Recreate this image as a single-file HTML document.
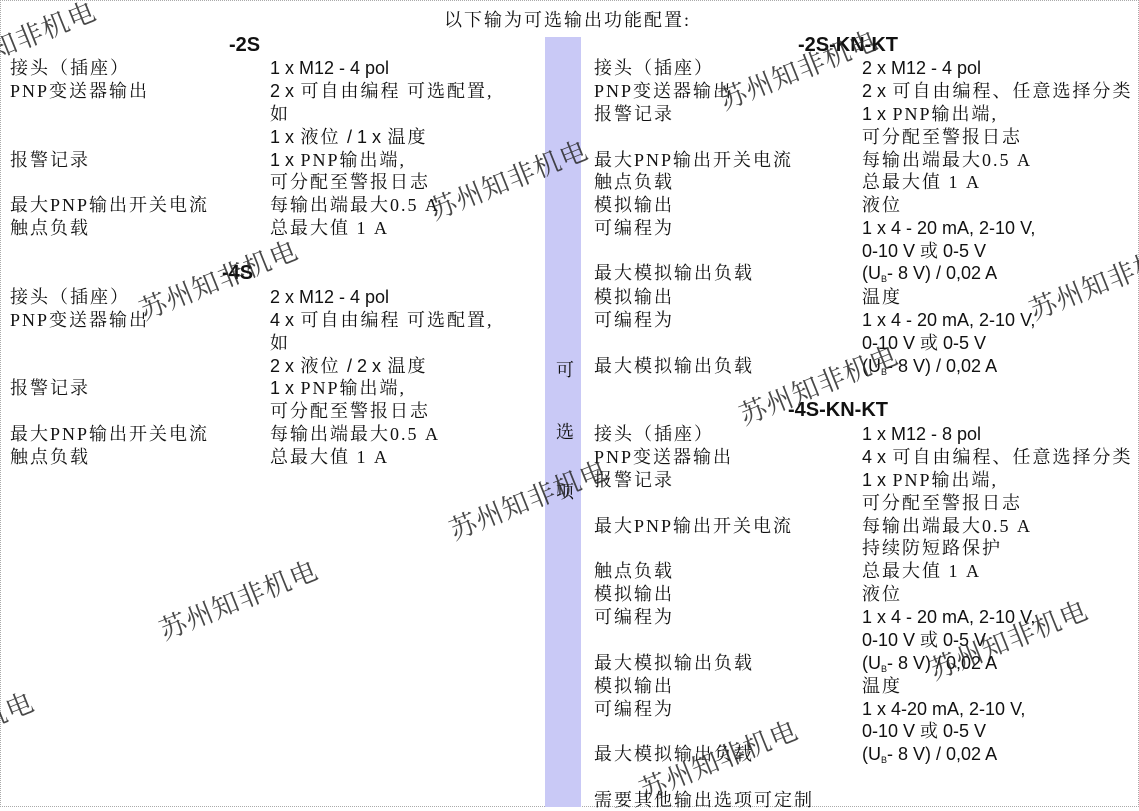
<!DOCTYPE html>
<html><head><meta charset="utf-8"><style>
html,body{margin:0;padding:0;background:#fff}
body{width:1139px;height:807px;position:relative;overflow:hidden;font-family:"Liberation Serif","Noto Serif CJK SC",serif;font-size:18px;color:#111;letter-spacing:2px}
.frame{position:absolute;left:0;top:0;width:1137px;height:805px;border:1px dotted #aaa}
.t{position:absolute;white-space:nowrap;line-height:22px}
.s{font-family:"Liberation Sans","Noto Serif CJK SC",sans-serif;letter-spacing:0}
.t.s{letter-spacing:0}
.h{position:absolute;font-family:"Liberation Sans",sans-serif;font-weight:bold;font-size:20px;line-height:22px;letter-spacing:0}
.bar{position:absolute;left:545px;top:37px;width:36px;height:770px;background:#c9c9f6}
.w{position:absolute;font-family:"Noto Serif CJK SC",serif;font-size:27px;letter-spacing:1px;color:rgba(40,40,40,0.85);transform:rotate(-22deg);transform-origin:left center;white-space:nowrap}
sub{font-size:9px;vertical-align:-3px}
</style></head><body>
<div class="frame"></div>
<div class="bar"></div>
<div class="t" style="left:444px;top:9px">以下输为可选输出功能配置:</div>
<div class="t" style="left:556px;top:359px">可</div>
<div class="t" style="left:556px;top:421px">选</div>
<div class="t" style="left:556px;top:481px">项</div>

<div class="h" style="left:229px;top:34px">-2S</div>
<div class="t" style="left:10px;top:57px">接头（插座）</div><div class="t s" style="left:270px;top:57px">1 x M12 - 4 pol</div>
<div class="t" style="left:10px;top:80px">PNP变送器输出</div><div class="t" style="left:270px;top:80px"><span class="s">2 x</span> 可自由编程 可选配置,</div>
<div class="t" style="left:270px;top:103px">如</div>
<div class="t" style="left:270px;top:126px"><span class="s">1 x</span> 液位 <span class="s">/ 1 x</span> 温度</div>
<div class="t" style="left:10px;top:149px">报警记录</div><div class="t" style="left:270px;top:149px"><span class="s">1 x</span> PNP输出端,</div>
<div class="t" style="left:270px;top:171px">可分配至警报日志</div>
<div class="t" style="left:10px;top:194px">最大PNP输出开关电流</div><div class="t" style="left:270px;top:194px">每输出端最大0.5 A</div>
<div class="t" style="left:10px;top:217px">触点负载</div><div class="t" style="left:270px;top:217px">总最大值 1 A</div>

<div class="h" style="left:222px;top:262px">-4S</div>
<div class="t" style="left:10px;top:286px">接头（插座）</div><div class="t s" style="left:270px;top:286px">2 x M12 - 4 pol</div>
<div class="t" style="left:10px;top:309px">PNP变送器输出</div><div class="t" style="left:270px;top:309px"><span class="s">4 x</span> 可自由编程 可选配置,</div>
<div class="t" style="left:270px;top:332px">如</div>
<div class="t" style="left:270px;top:355px"><span class="s">2 x</span> 液位 <span class="s">/ 2 x</span> 温度</div>
<div class="t" style="left:10px;top:377px">报警记录</div><div class="t" style="left:270px;top:377px"><span class="s">1 x</span> PNP输出端,</div>
<div class="t" style="left:270px;top:400px">可分配至警报日志</div>
<div class="t" style="left:10px;top:423px">最大PNP输出开关电流</div><div class="t" style="left:270px;top:423px">每输出端最大0.5 A</div>
<div class="t" style="left:10px;top:446px">触点负载</div><div class="t" style="left:270px;top:446px">总最大值 1 A</div>

<div class="h" style="left:798px;top:34px">-2S-KN-KT</div>
<div class="t" style="left:594px;top:57px">接头（插座）</div><div class="t s" style="left:862px;top:57px">2 x M12 - 4 pol</div>
<div class="t" style="left:594px;top:80px">PNP变送器输出</div><div class="t" style="left:862px;top:80px"><span class="s">2 x</span> 可自由编程、任意选择分类</div>
<div class="t" style="left:594px;top:103px">报警记录</div><div class="t" style="left:862px;top:103px"><span class="s">1 x</span> PNP输出端,</div>
<div class="t" style="left:862px;top:126px">可分配至警报日志</div>
<div class="t" style="left:594px;top:149px">最大PNP输出开关电流</div><div class="t" style="left:862px;top:149px">每输出端最大0.5 A</div>
<div class="t" style="left:594px;top:171px">触点负载</div><div class="t" style="left:862px;top:171px">总最大值 1 A</div>
<div class="t" style="left:594px;top:194px">模拟输出</div><div class="t" style="left:862px;top:194px">液位</div>
<div class="t" style="left:594px;top:217px">可编程为</div><div class="t s" style="left:862px;top:217px">1 x 4 - 20 mA, 2-10 V,</div>
<div class="t s" style="left:862px;top:240px">0-10 V 或 0-5 V</div>
<div class="t" style="left:594px;top:262px">最大模拟输出负载</div><div class="t s" style="left:862px;top:262px">(U<sub>B</sub>- 8 V) / 0,02 A</div>
<div class="t" style="left:594px;top:286px">模拟输出</div><div class="t" style="left:862px;top:286px">温度</div>
<div class="t" style="left:594px;top:309px">可编程为</div><div class="t s" style="left:862px;top:309px">1 x 4 - 20 mA, 2-10 V,</div>
<div class="t s" style="left:862px;top:332px">0-10 V 或 0-5 V</div>
<div class="t" style="left:594px;top:355px">最大模拟输出负载</div><div class="t s" style="left:862px;top:355px">(U<sub>B</sub>- 8 V) / 0,02 A</div>

<div class="h" style="left:788px;top:399px">-4S-KN-KT</div>
<div class="t" style="left:594px;top:423px">接头（插座）</div><div class="t s" style="left:862px;top:423px">1 x M12 - 8 pol</div>
<div class="t" style="left:594px;top:446px">PNP变送器输出</div><div class="t" style="left:862px;top:446px"><span class="s">4 x</span> 可自由编程、任意选择分类</div>
<div class="t" style="left:594px;top:469px">报警记录</div><div class="t" style="left:862px;top:469px"><span class="s">1 x</span> PNP输出端,</div>
<div class="t" style="left:862px;top:492px">可分配至警报日志</div>
<div class="t" style="left:594px;top:515px">最大PNP输出开关电流</div><div class="t" style="left:862px;top:515px">每输出端最大0.5 A</div>
<div class="t" style="left:862px;top:537px">持续防短路保护</div>
<div class="t" style="left:594px;top:560px">触点负载</div><div class="t" style="left:862px;top:560px">总最大值 1 A</div>
<div class="t" style="left:594px;top:583px">模拟输出</div><div class="t" style="left:862px;top:583px">液位</div>
<div class="t" style="left:594px;top:606px">可编程为</div><div class="t s" style="left:862px;top:606px">1 x 4 - 20 mA, 2-10 V,</div>
<div class="t s" style="left:862px;top:629px">0-10 V 或 0-5 V</div>
<div class="t" style="left:594px;top:652px">最大模拟输出负载</div><div class="t s" style="left:862px;top:652px">(U<sub>B</sub>- 8 V) / 0,02 A</div>
<div class="t" style="left:594px;top:675px">模拟输出</div><div class="t" style="left:862px;top:675px">温度</div>
<div class="t" style="left:594px;top:698px">可编程为</div><div class="t s" style="left:862px;top:698px">1 x 4-20 mA, 2-10 V,</div>
<div class="t s" style="left:862px;top:720px">0-10 V 或 0-5 V</div>
<div class="t" style="left:594px;top:743px">最大模拟输出负载</div><div class="t s" style="left:862px;top:743px">(U<sub>B</sub>- 8 V) / 0,02 A</div>
<div class="t" style="left:594px;top:789px">需要其他输出选项可定制</div>

<div class="w" style="left:-10px;top:30px">知非机电</div>
<div class="w" style="left:430px;top:190px">苏州知非机电</div>
<div class="w" style="left:720px;top:80px">苏州知非机电</div>
<div class="w" style="left:140px;top:290px">苏州知非机电</div>
<div class="w" style="left:1030px;top:290px">苏州知非机电</div>
<div class="w" style="left:740px;top:395px">苏州知非机电</div>
<div class="w" style="left:450px;top:510px">苏州知非机电</div>
<div class="w" style="left:160px;top:610px">苏州知非机电</div>
<div class="w" style="left:930px;top:650px">苏州知非机电</div>
<div class="w" style="left:-20px;top:700px">机电</div>
<div class="w" style="left:640px;top:770px">苏州知非机电</div>
</body></html>
